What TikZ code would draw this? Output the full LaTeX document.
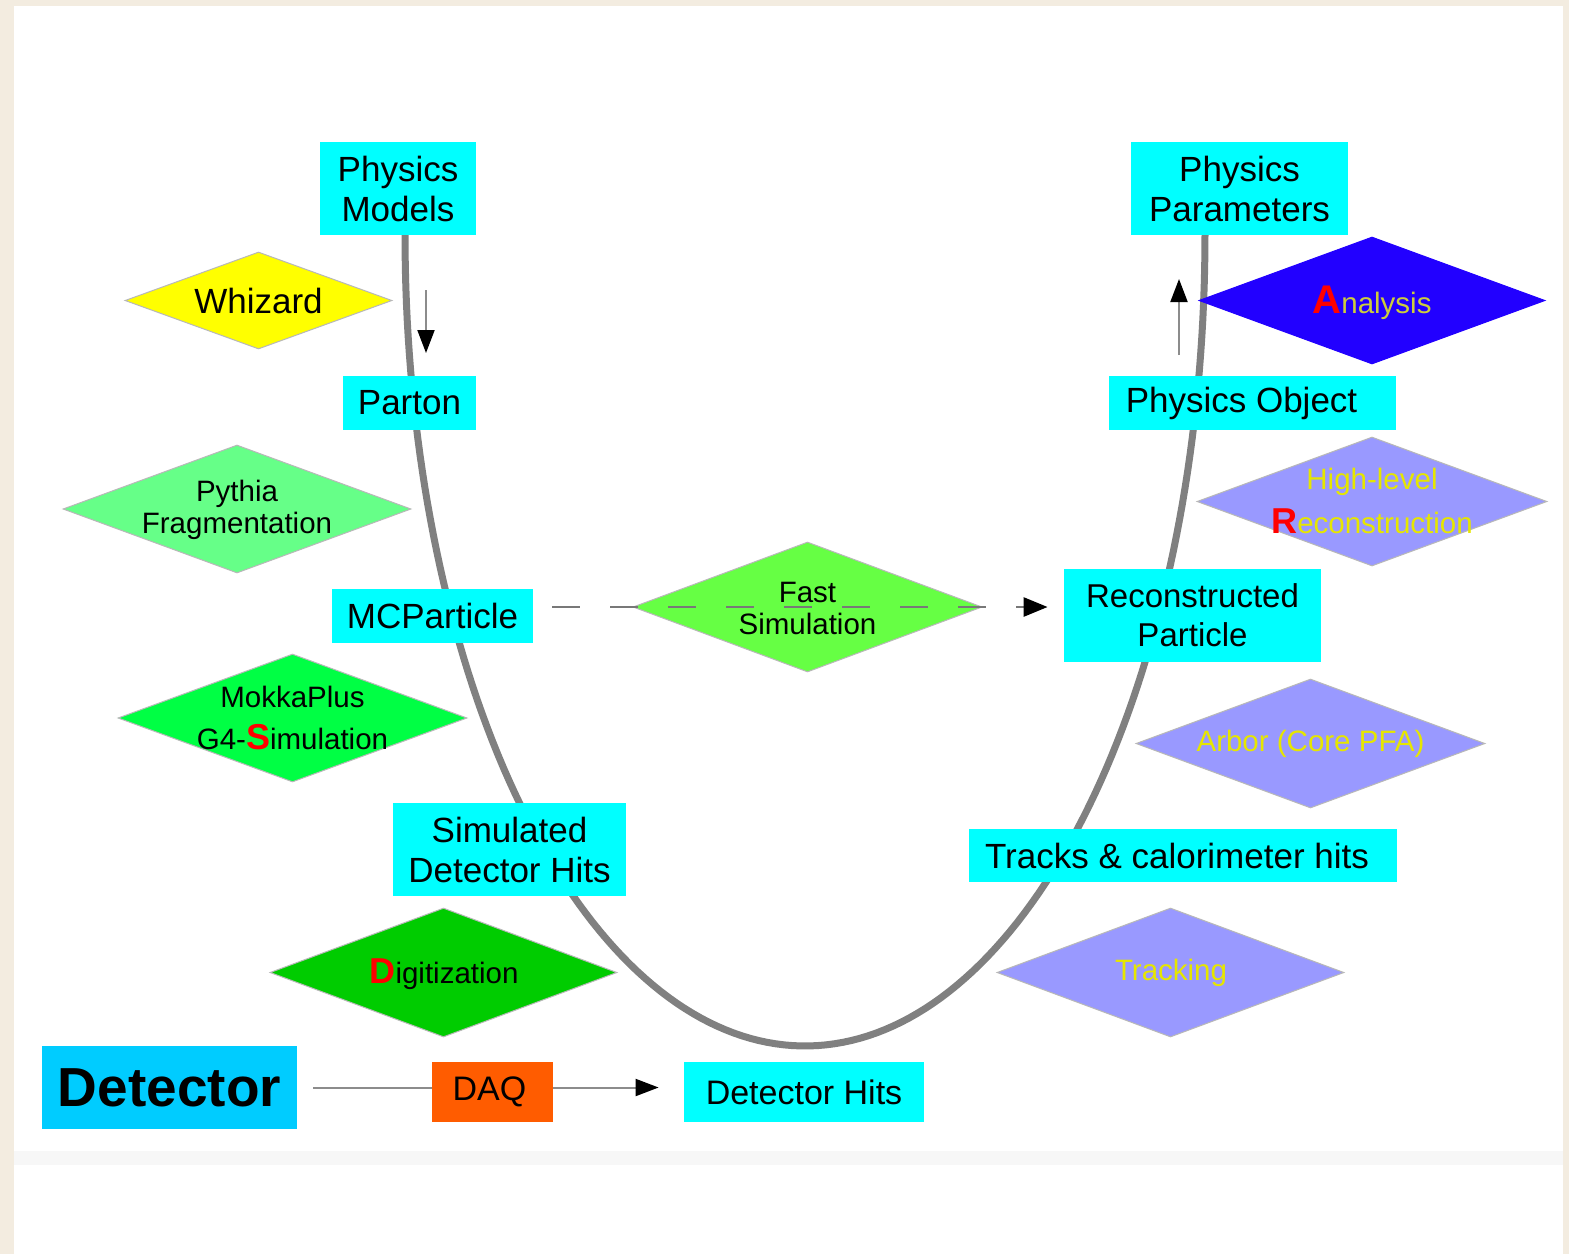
\documentclass[tikz,border=0pt]{standalone}
\usepackage{fontspec}
\setmainfont{Liberation Sans}
\usetikzlibrary{shapes.geometric,arrows.meta,calc}
\definecolor{cream}{RGB}{243,236,224}
\definecolor{boxcyan}{RGB}{0,255,255}
\definecolor{detblue}{RGB}{0,204,255}
\definecolor{daqorange}{RGB}{255,92,0}
\definecolor{whizyellow}{RGB}{255,255,0}
\definecolor{pythgreen}{RGB}{102,255,136}
\definecolor{mokkagreen}{RGB}{0,255,68}
\definecolor{digigreen}{RGB}{0,204,0}
\definecolor{fastgreen}{RGB}{102,255,68}
\definecolor{anablue}{RGB}{34,0,255}
\definecolor{lilac}{RGB}{153,153,255}
\definecolor{ytext}{RGB}{230,230,0}
\definecolor{anatext}{RGB}{205,205,60}
\definecolor{ugray}{RGB}{128,128,128}
\definecolor{lngray}{RGB}{140,140,140}
\definecolor{dashgray}{RGB}{120,120,120}
\begin{document}
\begin{tikzpicture}[x=0.5pt,y=-0.5pt,
  box/.style={fill=boxcyan, draw=none, inner sep=0pt, align=center, text=black,
    font=\fontsize{17.5}{20}\selectfont},
  dia/.style={shape=diamond, draw=black!28, line width=0.5pt, inner sep=0pt},
  dtext/.style={align=center, inner sep=0pt, text=black,
    font=\fontsize{14.75}{16}\selectfont},
  ucurve/.style={draw=ugray, line width=3.5pt},
  conn/.style={draw=lngray, line width=1pt},
  tip/.style={-{Triangle[width=8.5pt,length=11.5pt,color=black]}}
]
% background
\fill[cream] (0,0) rectangle (1569,1254);
\fill[white] (14,6) rectangle (1563,1254);
\fill[black!3] (14,1151) rectangle (1563,1165);
\useasboundingbox (0,0) rectangle (1569,1254);

% U curve
\draw[ucurve] plot[domain=180:360, samples=150] ({805+400*cos(\x)},{235-811*sin(\x)});

% diamonds
\node[dia, fill=whizyellow, minimum width=133.5pt, minimum height=48.5pt] (whiz) at (258.5,300.5) {};
\node[dtext, font=\fontsize{17.5}{20}\selectfont] (whizt) at (258.5,301) {Whizard};

\node[dia, fill=pythgreen, minimum width=174pt, minimum height=64pt] (pyth) at (237,509) {};
\node[dtext] (pytht) at (237,510) {Pythia\\Fragmentation};

\node[dia, fill=mokkagreen, minimum width=174.5pt, minimum height=64pt] (mokka) at (292.5,718) {};
\node[dtext, font=\fontsize{14.75}{21}\selectfont] (mokkat) at (292.5,718) {MokkaPlus\\G4-{\fontsize{18}{18}\selectfont\bfseries\color{red}S}imulation};

\node[dia, fill=digigreen, minimum width=173.5pt, minimum height=64.5pt] (digi) at (443.5,972.5) {};
\node[dtext] (digit) at (444,974) {{\fontsize{18}{18}\selectfont\bfseries\color{red}D}igitization};

\node[dia, fill=fastgreen, minimum width=174.5pt, minimum height=65pt] (fs) at (807.5,607) {};

\node[dia, fill=anablue, draw=anablue, minimum width=173pt, minimum height=63.5pt] (ana) at (1372,300.5) {};
\node[dtext] (anat) at (1372,303) {{\fontsize{20}{20}\selectfont\bfseries\color{red}A}\textcolor{anatext}{nalysis}};

\node[dia, fill=lilac, minimum width=175pt, minimum height=64.5pt] (hlr) at (1372,501.5) {};
\node[dtext, text=ytext, font=\fontsize{14.75}{22}\selectfont] (hlrt) at (1372,501) {High-level\\{\fontsize{18}{18}\selectfont\bfseries\color{red}R}econstruction};

\node[dia, fill=lilac, minimum width=174.5pt, minimum height=64.5pt] (arbor) at (1310.5,743.5) {};
\node[dtext, text=ytext] (arbort) at (1310.5,744) {Arbor (Core PFA)};

\node[dia, fill=lilac, minimum width=173.5pt, minimum height=64.5pt] (track) at (1170.5,972.5) {};
\node[dtext, text=ytext] (trackt) at (1171,973) {Tracking};

% boxes
\node[box, minimum width=78pt, minimum height=46.5pt] (pm) at (398,188.5) {Physics\\Models};
\node[box, minimum width=108.5pt, minimum height=46.5pt] (pp) at (1239.5,188.5) {Physics\\Parameters};
\node[box, minimum width=66.5pt, minimum height=27pt] (parton) at (409.5,403) {Parton};
\node[box, minimum width=143.5pt, minimum height=27pt] (po) at (1252.5,403) {\hspace*{-11pt}Physics Object};
\node[box, minimum width=100.5pt, minimum height=27pt] (mcp) at (432.5,616) {MCParticle};
\node[box, font=\fontsize{16.5}{19.5}\selectfont, minimum width=128.5pt, minimum height=46.5pt] (reco) at (1192.5,615.5) {Reconstructed\\Particle};
\node[box, minimum width=116.5pt, minimum height=46.5pt] (sdh) at (509.5,849.5) {Simulated\\Detector Hits};
\node[box, minimum width=214pt, minimum height=26.5pt] (tch) at (1183,855.5) {\hspace*{-6pt}Tracks \& calorimeter hits};
\node[box, font=\fontsize{17}{20}\selectfont, minimum width=120pt, minimum height=30pt] (dh) at (804,1092) {Detector Hits};
\node[box, fill=detblue, font=\fontsize{27.5}{30}\bfseries, minimum width=127.5pt, minimum height=41.5pt] (det) at (169.5,1087.5) {Detector};
\node[box, fill=daqorange, font=\fontsize{17}{20}\selectfont, minimum width=60.5pt, minimum height=30pt] (daq) at (492.5,1092) {\hspace*{-3pt}DAQ};

% fast simulation path (dashed) and its label
\node[dtext] (fst) at (807.5,608) {Fast\\Simulation};
\draw[draw=dashgray, line width=1.3pt, dash pattern=on 14pt off 15pt,
  -{Triangle[width=9.5pt,length=12pt,color=black]},
  shorten <=9.5pt, shorten >=8pt] (mcp.east |- fs.center) -- (reco.west |- fs.center);

% small flow arrows
\coordinate (dnS) at (426,290);
\coordinate (dnE) at (426,353);
\coordinate (upS) at (1179,355);
\coordinate (upE) at (1179,279);
\draw[conn, tip] (dnS) -- (dnE);
\draw[conn, tip] (upS) -- (upE);

% detector chain
\draw[conn, shorten <=8pt] (det.east) -- (daq.west |- det.east);
\draw[conn, tip, shorten >=12.5pt] (daq.east |- det.east) -- (dh.west |- det.east);
\end{tikzpicture}
\end{document}
